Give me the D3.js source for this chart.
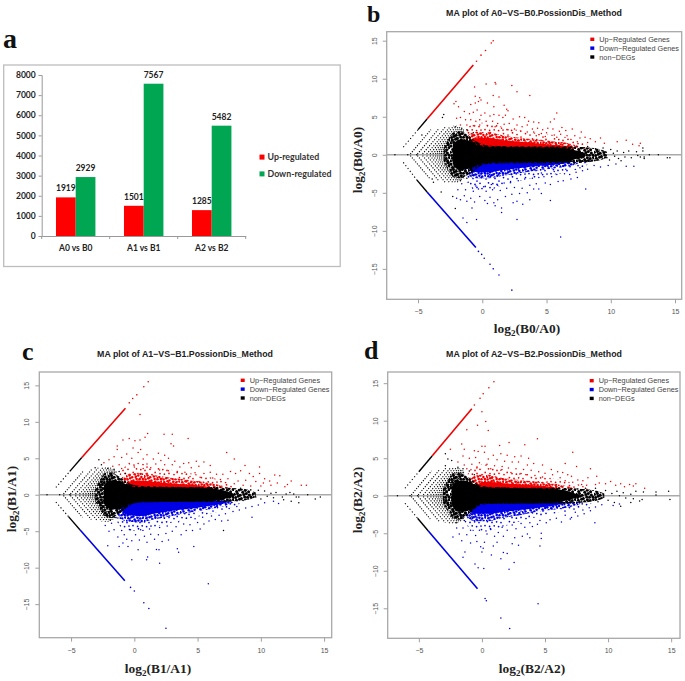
<!DOCTYPE html>
<html>
<head>
<meta charset="utf-8">
<script src="https://cdn.jsdelivr.net/npm/d3@7"></script>
<style>
html, body { margin: 0; padding: 0; background: #fff; }
svg { display: block; }
</style>
</head>
<body>
<script>
// ---- panel a : bar chart ----
var barGroups = ["A0 vs B0", "A1 vs B1", "A2 vs B2"];
var barSeries = ["Up-regulated", "Down-regulated"];
var barUp = [1919, 1501, 1285];
var barDown = [2929, 7567, 5482];
var barTicks = [0, 1000, 2000, 3000, 4000, 5000, 6000, 7000, 8000];

// ---- MA plots : shared ticks ----
var maTicksX = [-5, 0, 5, 10, 15];
var maTicksY = [-15, -10, -5, 0, 5, 10, 15];
var maLegend = ["Up\u2212Regulated Genes", "Down\u2212Regulated Genes", "non\u2212DEGs"];

// stripes of the low count genes, left side (start, end)
var fanUp = [[[-5.6,0.1],[-4.0,3.3]],[[-5.05,0.1],[-3.35,3.5]],[[-4.65,0.1],[-2.85,3.7]],[[-4.33,0.1],[-2.5,3.7]],
  [[-4.07,0.1],[-2.22,3.8]],[[-3.85,0.1],[-2.0,3.8]],[[-3.65,0.1],[-1.85,3.7]],[[-3.49,0.1],[-1.74,3.6]],
  [[-3.33,0.1],[-1.63,3.5]],[[-3.2,0.1],[-1.55,3.4]],[[-3.07,0.1],[-1.45,3.3]],[[-2.95,0.1],[-1.4,3.2]]];
var fanDown = [[[-5.6,-0.1],[-4.1,-3.1]],[[-5.05,-0.1],[-3.4,-3.4]],[[-4.65,-0.1],[-2.9,-3.6]],[[-4.33,-0.1],[-2.55,-3.66]],
  [[-4.07,-0.1],[-2.27,-3.7]],[[-3.85,-0.1],[-2.05,-3.7]],[[-3.65,-0.1],[-1.9,-3.6]],[[-3.49,-0.1],[-1.8,-3.5]],
  [[-3.33,-0.1],[-1.68,-3.4]],[[-3.2,-0.1],[-1.6,-3.3]],[[-3.07,-0.1],[-1.5,-3.2]],[[-2.95,-0.1],[-1.45,-3.1]]];

// ---- panel b ----
var bDiagUp = [[-6.15,1],[-5.0,3.3],[-4.3,4.7],[-0.7,11.8]];
var bDiagDown = [[-6.15,-1],[-5.1,-3.3],[-4.3,-4.9],[-0.5,-12.2]];
var bCoreSolid = [[-2.3,1.2,-1.2],[-1.8,2,-2],[-1.2,1.9,-1.9],[-0.6,1.45,-1.5],[0,1.1,-1.1],[1,1.05,-1.05],[4,1,-1],[6,0.95,-0.95],[6.8,0.75,-0.75],[7.5,0.45,-0.45],[8,0.2,-0.2]];
var bCore = [[-3,0.9,-0.9],[-2.6,2.2,-2.2],[-2.2,3,-3],[-1.7,3.1,-3.1],[-1.2,2.7,-2.7],[-0.7,2,-2.2],[-0.2,1.5,-1.5],[0.5,1.2,-1.2],[4,1.1,-1.1],[6,1.1,-1.1],[7,1.1,-1.1],[8,1,-1],[9,0.8,-0.8],[9.7,0.4,-0.4]];
var bRedSolid = [[-1.3,1],[-0.9,1.9],[-0.3,2.2],[0.5,2.2],[1.5,1.95],[3,1.7],[4.5,1.45],[6,1.25],[7,1.05],[7.2,0.9]];
var bRedMid = [[-1.6,1.2],[-1.1,2.6],[-0.5,3],[0.5,3],[1.5,2.6],[3,2.2],[4.5,1.95],[6,1.7],[7,1.4],[7.6,1.1]];
var bRedHaze = [[-1.8,1.4],[-1.2,3.4],[-0.5,4.2],[0.5,4.2],[1.5,3.7],[3,3.2],[4.5,2.8],[6,2.5],[7,2.1],[8,1.5],[8.6,0.9]];
var bBlueSolid = [[-1.3,-1],[-0.9,-2],[-0.3,-2.3],[0.5,-2.3],[1.5,-2.05],[3,-1.75],[4.5,-1.45],[6,-1.25],[6.8,-1.05],[7,-0.9]];
var bBlueMid = [[-1.6,-1.3],[-1.1,-2.7],[-0.5,-3.1],[0.5,-3.1],[1.5,-2.8],[3,-2.4],[4.5,-2],[6,-1.7],[7,-1.4],[7.6,-1.05]];
var bBlueHaze = [[-1.8,-1.5],[-1.2,-3.6],[-0.5,-4.6],[0.5,-4.6],[1.5,-4.1],[3,-3.4],[4.5,-2.9],[6,-2.5],[7,-2.1],[8,-1.5],[8.5,-0.9]];
var bUp = [[0.3,9.3],[1,9.5],[1.05,9.3],[2.3,9.1],[2.7,8.3],[3.7,7.8],[-0.6,8.9],[-0.55,7.7],[0.85,7.8],[1.3,7.6],[-0.2,7.5],[-0.1,7.2],[-0.3,7],[-0.55,6.8],[-0.9,6.6],[-2.2,6.7],[-2.05,7],[-1.85,6.3],[0.4,6.8],[0.9,6.3],[1.7,6.5],[1.9,6],[2,5.8],[5.8,5.5],[1.8,5.2],
  [-1.4,5.7],[-1,5.4],[-0.7,5.6],[-0.4,5.9],[-0.1,5.2],[0.2,5.5],[0.6,5.1],[0.9,5.3],[1.3,5.2],[1.6,4.9],[2.4,4.7],[2.9,5],[3.3,4.9],[3.6,4.4],[4,4.3],[4.4,4.2],[5.6,4.7],[5.3,4.3],[6.2,3.6],[7,3.4],[6.5,3.2],[7.7,3],[5.1,3.5],[5.5,3.4],[6,3.1],
  [-2,4.8],[-1.7,4.9],[-1.3,4.6],[-0.9,4.6],[-0.5,4.4],[-0.2,4.6],[0.3,4.4],[0.8,4.4],[1.2,4.1],[1.7,4],[2.1,4.1],[2.7,3.9],[3.1,3.7],[3.5,3.9],[3.9,3.4],[4.3,3.5],[4.7,3.3],[-1.7,3.9],[-1.2,3.9],[-0.7,3.8],[-0.2,3.9],[0.4,3.8],[1,3.7],[1.5,3.5],[2,3.3],[2.5,3.4],[3,3.1],[3.5,3],[4,3],[4.6,2.8],[5,2.9],[5.6,2.6],[6.1,2.7],[6.6,2.5],[7.2,2.5],[7.6,2.2],[8,2.3],[8.4,2.1],[8.8,1.7],[9.2,2.2],[9.5,1.5],[10.5,1.7],[11.2,1.9],[11.7,1.4],[12.3,1.5],[12.2,1.2],[8.2,1.6],[7.4,1.7],[6.9,2],[5.8,2.3],[4.9,2.4],[4.2,2.5]];
var bUpEnd = [[-0.45,12.3],[-0.1,13.1],[0.25,13.7],[0.7,14.7],[0.85,15]];
var bDown = [[6.1,-10.8],[2.7,-8.5],[-0.45,-8.5],[-1.2,-8.9],[-1.5,-8.3],[8.05,-4.5],[5.3,-6],[-0.8,-7],[1.5,-7.6],[3.15,-6.5],[1.5,-7],[1,-6.7],[0.9,-6.3],[0.4,-6.4],[0.2,-6],[-0.6,-6.2],[-1.2,-6.1],[-1.7,-5.9],[-2,-5.7],[-1.4,-5.4],[-0.9,-5.7],[-0.2,-5.5],[0.6,-5.6],[1.2,-5.9],[1.8,-5.5],[2.4,-6.3],[2.7,-6.1],[3.7,-5.9],
  [2.3,-5.2],[2.9,-5.1],[3.5,-5],[4,-4.5],[4.4,-4.5],[4.6,-5.1],[-1.9,-4.6],[-1.3,-4.6],[-0.7,-4.8],[-0.3,-4.5],[0.3,-4.8],[0.8,-4.6],[1.4,-4.7],[1.9,-4.4],[2.5,-4.3],[3.1,-4.4],[3.7,-4],[4.2,-3.8],[4.9,-3.7],[5.3,-3.9],[5.9,-3.5],[6.3,-3.4],[6.9,-3.2],[7.4,-3],
  [-1.6,-3.8],[-1.1,-3.6],[-0.5,-4.1],[0.1,-4.2],[0.7,-3.9],[1.2,-4],[1.7,-3.7],[2.2,-3.5],[2.8,-3.4],[3.3,-3.2],[3.9,-3.1],[4.4,-3],[4.8,-2.9],[5.4,-2.9],[5.8,-2.6],[6.4,-2.5],[6.8,-2.6],[7.3,-2.3],[7.8,-2.1],[8.2,-1.9],[8.7,-1.4],[9.2,-1.6],[9.8,-1.4],[10.4,-1.2],[11.2,-1.5],[11.8,-1.5],[7.6,-1.7],[6.5,-1.9],[5.6,-2.2],[4.6,-2.4]];
var bDownEnd = [[-0.3,-12.7],[-0.05,-13.1],[0.15,-13.6],[0.6,-14.4],[0.85,-15],[1.3,-15.8],[2.3,-17.8]];
var bOther = [[-3,5.3],[-3.1,4.9],[-2.1,3.7],[-2.1,-7.05],[-2.3,-5.5],[-3.2,-4.9],[-3.9,-3.2],[-3.8,-3.6],[-6.8,0],[-5.8,0],[-5.1,0],[-4.7,2.6],[-1.6,3.5],[-1.2,3.3],[-0.7,2.9],[-1.7,-3.4],[-1.2,-3.1],[-0.8,-2.7],[7.8,0.9],[8.2,1.1],[8.6,-0.7],[8.8,0.8],[9,-0.6],[9.1,0.5],[9.3,-0.3],[9.4,0.9],[9.5,0.3],[9.7,-0.4],[9.9,-0.7],[10,0.7],[10.2,0.2],[10.3,-0.2],[10.5,0.5],[10.6,-0.5],[10.8,-0.8],[11,0.3],[11.1,-0.3],[11.4,0.5],[11.6,-0.4],[12,0.4],[12.1,-0.1],[12.3,-0.3],[12.5,0.5],[12.6,-0.3],[12.6,-0.5],[12.5,0.9],[13,0],[13.7,0],[14.4,-0.4],[14.6,-0.4]];

// ---- panel c ----
var cDiagUp = [[-6.2,1],[-5.1,3.2],[-4.15,5.1],[-0.7,11.85]];
var cDiagDown = [[-6.2,-1],[-5.2,-3],[-4.3,-4.8],[-0.75,-11.8]];
var cCoreSolid = [[-2.4,1.2,-1.2],[-1.9,2,-2],[-1.3,1.9,-2],[-0.6,1.4,-1.45],[0,1.1,-1],[1,1.05,-0.95],[4,1,-0.95],[6,0.9,-0.9],[6.8,0.7,-0.7],[7.4,0.4,-0.4],[7.9,0.15,-0.15]];
var cCore = [[-3.1,0.9,-0.9],[-2.7,2.1,-2.1],[-2.3,3,-3],[-1.8,3.1,-3.2],[-1.3,2.6,-2.7],[-0.7,1.9,-2],[-0.2,1.4,-1.3],[0.5,1.2,-1.05],[4,1.05,-1],[6,1.05,-1],[7,1,-1],[8,0.9,-0.9],[9,0.7,-0.7],[9.6,0.3,-0.3]];
var cRedSolid = [[-1,1],[-0.5,1.6],[0.3,1.95],[1.2,1.85],[2.5,1.6],[4,1.4],[5.5,1.2],[6.2,1]];
var cRedMid = [[-1.2,1.3],[-0.8,2.4],[-0.3,2.9],[0.5,3],[1.5,2.7],[3,2.3],[4.5,2],[6,1.6],[6.8,1.3],[7.4,1]];
var cRedHaze = [[-1.5,1.5],[-1,3.3],[-0.4,4.2],[0.5,4.3],[1.5,3.9],[3,3.4],[4.5,2.9],[6,2.4],[7,1.9],[8,1.3],[8.6,0.8]];
var cBlueSolid = [[-1.4,-1],[-1,-2.2],[-0.5,-2.8],[0.5,-2.9],[1.5,-2.6],[3,-2.2],[4.5,-1.9],[6,-1.5],[7,-1.2],[7.4,-0.9]];
var cBlueMid = [[-1.7,-1.3],[-1.2,-3],[-0.5,-3.7],[0.5,-3.8],[1.5,-3.4],[3,-2.9],[4.5,-2.4],[6,-2],[7,-1.6],[7.8,-1.1]];
var cBlueHaze = [[-1.9,-1.5],[-1.4,-3.6],[-0.6,-4.9],[0.5,-5],[1.5,-4.5],[3,-3.8],[4.5,-3.2],[6,-2.6],[7,-2.2],[8,-1.5],[8.8,-0.8]];
var cUp = [[0.45,11],[1.05,8.4],[2.35,8.3],[3,8.3],[4.25,7.7],[-0.9,7.5],[-0.4,7.7],[0.05,7.4],[0.85,7.9],[0.45,7.5],[2.9,7],[3.1,6.7],[-1.35,6.7],[-1.35,6.2],[-0.1,6.4],[7.3,5.8],[7.9,4.9],[11.1,2.7],[11.5,2.6],[12.4,1.9],[13.2,1.3],[13.6,1.3],[9.9,3.8],[8.75,4],[8,2.9],
  [0.3,5.8],[1,5.5],[1.9,5.7],[2.4,5.4],[0.5,6.2],[-0.6,5.6],[-1,5.1],[-1.6,5.2],[-2,4.8],[-2.4,4.4],[-0.2,5],[0.7,4.9],[1.5,4.9],[2.1,4.7],[2.7,5],[3.2,4.6],[3.9,4.3],[4.3,4.4],[4.9,4.6],[5.5,4.5],[6,4],[5.1,3.9],[4.5,3.7],[3.6,3.8],[3,4.1],[2.4,4.1],[1.7,4.2],[1,4.2],[0.3,4.3],[-0.4,4.3],[-1.2,4.1],[-1.7,3.9],
  [-1,3.6],[0,3.8],[0.7,3.6],[1.3,3.7],[2,3.4],[2.7,3.3],[3.4,3.2],[4,3.1],[4.8,3],[5.5,2.9],[6,3.1],[6.5,2.8],[7,2.8],[7.6,3.2],[8.4,3.3],[9.1,2.9],[9.4,2.5],[9.9,2.9],[10.3,2.2],[10.7,1.9],[10.2,1.6],[9.6,1.8],[8.8,2],[8.2,1.9],[7.4,2.2],[6.8,2.1],[6.2,2.3],[5.2,2.4],[4.4,2.5],[7.9,1.5],[8.6,1.3],[9.2,1.2],[10,1.2],[10.8,1.3],[11.3,1.6],[11.9,1.1],[12.1,1.4]];
var cUpEnd = [[-0.4,12.6],[-0.13,13.2],[0.2,13.7],[0.75,14.8],[1.1,15.5]];
var cDown = [[-0.2,-8.9],[5.85,-12.2],[2,-9.4],[1.05,-8.55],[0.97,-8.9],[3.5,-7.9],[3.4,-7.4],[4.7,-7.1],[1.75,-7.5],[1.95,-7.55],[0.3,-7.55],[-2.1,-7],[-1.2,-7.1],[-0.5,-7.1],[9.3,-3.1],[-0.9,-6.6],[-0.6,-6.1],[-0.2,-6.3],[0.4,-6.2],[1,-6.5],[1.6,-6.1],[2.2,-6.4],[2.7,-6.2],[-1.3,-5.8],[-0.8,-5.5],[0.1,-5.5],[0.8,-5.7],[1.3,-5.4],[1.9,-5.5],[2.5,-5.3],[3,-5],[3.7,-5.5],[4.1,-4.9],[4.6,-4.9],[5.2,-4.7],
  [-2,-5],[-1.6,-4.8],[-1,-4.9],[-0.3,-4.8],[0.5,-4.8],[1.2,-4.7],[2,-4.5],[2.6,-4.3],[3.3,-4.4],[3.9,-4],[4.4,-4.1],[5,-3.8],[5.5,-4],[5.9,-3.6],[6.4,-3.4],[6.9,-3.6],[7.4,-3.5],[-2.3,-4.2],[-1.8,-3.9],[3.5,-3.7],[4.8,-3.3],[5.4,-3.1],[6.1,-2.9],[6.7,-2.8],[7.2,-2.6],[7.8,-2.3],[8.3,-2.1],[8.8,-1.8],[9.3,-1.6],[9.8,-1.4],[10.3,-1.1],[11,-0.9],[11.4,-1.2],[7.5,-1.9],[8.1,-1.6]];
var cDownEnd = [[-0.3,-12.7],[0,-13.2],[0.75,-14.8],[1.15,-15.6],[2.5,-18.3]];
var cOther = [[-2.8,4.8],[-2.6,4.1],[-3.1,3.7],[-2.1,3.6],[-1.6,3.5],[-1.2,3.2],[-0.7,2.9],[-1.9,-3.5],[-1.3,-3.2],[-0.8,-2.7],[7.05,-4.9],[-6.9,0],[-5.9,0],[-5.1,0],[7.8,0.8],[8.1,-0.7],[8.4,0.9],[8.6,-0.8],[8.8,0.5],[9,-0.5],[9.2,0.7],[9.4,0.2],[9.6,-0.3],[9.8,0.6],[10,-0.6],[10.3,0.5],[10.5,-0.2],[10.8,0.2],[11,-0.4],[11.2,0.3],[11.7,-0.3],[12,0.1],[12.3,0.3],[12.6,0.1],[12.8,-0.3],[13,-0.3],[13.7,0],[14.3,-0.6],[14.7,-0.3],[12.4,-0.9],[11.8,-0.7],[13,-1.1]];

// ---- panel d ----
var dDiagUp = [[-6.1,1],[-5,3.2],[-3.95,5.3],[-0.8,11.6]];
var dDiagDown = [[-6.1,-1],[-5.1,-3],[-4.25,-4.7],[-0.35,-12.4]];
var dCoreSolid = [[-2.4,1.2,-1.2],[-1.9,2,-2.1],[-1.3,2,-2.1],[-0.6,1.45,-1.5],[0,1.15,-1.05],[1,1.05,-1],[4,1,-1],[5.8,0.9,-0.9],[6.5,0.7,-0.7],[7.2,0.4,-0.4],[7.7,0.15,-0.15]];
var dCore = [[-3.1,0.9,-0.9],[-2.7,2.1,-2.1],[-2.3,3,-3],[-1.8,3.1,-3.2],[-1.3,2.7,-2.8],[-0.7,2,-2],[-0.2,1.4,-1.3],[0.5,1.2,-1.1],[4,1.05,-1.05],[6,1.05,-1.05],[7,1,-1],[8,0.9,-0.9],[9,0.7,-0.7],[9.7,0.3,-0.3]];
var dRedSolid = [[-0.9,1],[-0.4,1.5],[0.3,1.85],[1.2,1.75],[2.5,1.55],[4,1.4],[5.5,1.2],[6,1]];
var dRedMid = [[-1.2,1.3],[-0.8,2.4],[-0.3,2.8],[0.5,2.8],[1.5,2.4],[3,2.1],[4.5,1.85],[6,1.5],[6.8,1.25],[7.4,1]];
var dRedHaze = [[-1.5,1.5],[-1,3.3],[-0.4,4.2],[0.5,4.2],[1.5,3.6],[3,3.1],[4.5,2.6],[6,2.2],[7,1.8],[8,1.3],[8.5,0.8]];
var dBlueSolid = [[-1.3,-1],[-1,-2],[-0.5,-2.4],[0.5,-2.4],[1.5,-2.2],[3,-1.9],[4.5,-1.6],[5.8,-1.3],[6.5,-1]];
var dBlueMid = [[-1.7,-1.3],[-1.2,-2.8],[-0.5,-3.4],[0.5,-3.4],[1.5,-3],[3,-2.6],[4.5,-2.1],[6,-1.8],[7,-1.5],[7.8,-1.1]];
var dBlueHaze = [[-1.9,-1.5],[-1.4,-3.4],[-0.6,-4.7],[0.5,-4.8],[1.5,-4.2],[3,-3.4],[4.5,-2.8],[6,-2.3],[7,-2.1],[8,-1.6],[8.7,-1]];
var dUp = [[0,11.2],[0.3,9.9],[-0.35,9.4],[0.5,8.7],[-1.2,8.8],[4.4,7.6],[2.15,7.1],[1.4,6.7],[3.4,6.8],[-1.6,6.9],[7.2,5.8],[-2.5,6.2],[0,6.6],[0.25,6.6],[6.6,4.3],[7.5,3.9],[8.6,3.6],[9.1,2.6],[12.2,1.6],[12.9,1],[11.7,1.5],
  [-1.4,6.2],[-0.6,6],[-0.3,5.9],[0.2,5.8],[0.9,5.4],[1.5,5.6],[2,5.4],[2.6,5.2],[3.1,5.3],[3.7,5],[-1.5,5.3],[-1,5],[-0.5,5.1],[0.5,4.9],[1.2,4.8],[1.8,4.6],[2.4,4.5],[2.9,4.5],[3.6,4.1],[4.1,4.3],[4.8,4.1],[5.5,3.5],[6,3.2],[6.4,3.1],[6.8,2.8],[7.1,2.6],
  [-1.9,4.5],[-1.4,4.1],[-0.8,4.2],[-0.2,4.4],[0.4,4.2],[1,4],[1.6,3.9],[2.1,3.7],[2.7,3.6],[3.3,3.5],[3.9,3.4],[4.5,3.2],[5,3],[5.6,2.8],[6.2,2.4],[7.6,2.1],[8,2],[8.4,2.4],[-1.2,3.6],[-0.4,3.7],[0.7,3.6],[1.5,3.4],[2.3,3.1],[3,2.9],[3.6,2.8],[4.2,2.7],[4.8,2.5],[5.4,2.3],[6.6,2],[7.2,1.8],[9,1.5],[9.3,1.7],[9.8,1.6],[10.2,1.9],[10.6,1.4],[11,1.6],[11.3,1.2],[12,1.3],[8.3,1.4],[7.9,1.5]];
var dUpEnd = [[-0.6,12.1],[-0.15,13],[0.1,13.6],[0.55,14.4],[0.95,15.2]];
var dDown = [[4.45,-14.4],[2.15,-9.8],[2.55,-8.9],[0.15,-9.7],[-0.3,-9.6],[-0.55,-9.1],[-1.5,-8.2],[-1.35,-7.5],[0.75,-7.9],[1.5,-8.4],[1.7,-7.55],[2,-7.7],[8.95,-3.6],[4.6,-6.7],[4.7,-5],[4.7,-5.7],[-0.1,-6.8],[0,-7.5],[0.1,-7],[-0.9,-6.3],[-0.4,-6.1],[0.2,-6.2],[0.9,-6.7],[1.2,-6.2],[-1.6,-6],[2.4,-6.4],[2.9,-6.6],[2.6,-5.6],[3.2,-5.4],[3.6,-5.1],[3.8,-5.6],[1.7,-5.4],[1,-5.4],
  [-2.3,-5.5],[-1.8,-5.1],[-1.2,-5.2],[-0.5,-5.3],[0.4,-5.1],[1.3,-4.9],[2,-4.6],[2.7,-4.4],[3.4,-4.2],[4,-4.1],[4.4,-3.8],[5.1,-3.6],[-2,-4.3],[-1.5,-4.3],[-0.9,-4.6],[-0.2,-4.6],[0.7,-4.5],[1.6,-4.2],[2.4,-3.9],[3.1,-3.7],[3.8,-3.6],[4.6,-3.3],[5.4,-3.2],[5.9,-3],[6.3,-3.5],[7,-3.1],[7.1,-2.9],[7.6,-2.7],[8.1,-2.4],[8.6,-2],[6.6,-2.6],[7.4,-2.2],[8,-1.9],[8.5,-1.6],[9,-1.5],[9.5,-1.2],[10.4,-1.3],[10.9,-1.1]];
var dDownEnd = [[0.25,-13.7],[0.35,-14],[1.5,-16.3],[2.2,-17.7]];
var dOther = [[-2.9,5.6],[-2.7,4.9],[-2.4,4.7],[-2.9,4],[-1.9,3.8],[-1.5,3.6],[-1,3.3],[-0.6,2.8],[-2,-3.6],[-1.4,-3.3],[-0.8,-2.8],[-6.7,0],[-5.7,0],[-5.1,0],[7.6,0.9],[7.9,-0.8],[8.2,1],[8.4,-0.7],[8.6,0.6],[8.9,-0.5],[9,1],[9.2,-0.8],[9.4,0.4],[9.6,-0.2],[9.8,0.7],[10,-0.6],[10.3,0.3],[10.5,-0.9],[10.7,0.6],[10.9,0],[11.2,0.4],[11.4,-0.3],[11.8,0.2],[12,-0.4],[12.2,0.6],[12.5,-0.7],[12.7,-0.5],[12.8,0.5],[13.8,0.5],[13.8,0.1],[14.8,0.6],[14.9,-0.5],[11,-1.4],[11.8,-0.9]];

var width = 685,
    height = 681;

var svg = d3.select("body").append("svg")
    .attr("width", width)
    .attr("height", height);

var defs = svg.append("defs");

// slight softening, the source is a resampled bitmap
defs.append("filter").attr("id", "soft")
    .append("feGaussianBlur").attr("stdDeviation", 0.3);

// stipple textures for the zones too dense to list gene by gene
var tileDense = [[1,2],[4.4,0.6],[7.2,3.3],[10.5,1.2],[13.1,2.6],[16.3,0.8],[2.6,5.4],[5.2,4.1],[8.7,6.2],[11.2,4.3],[14.6,5.7],[17.2,3.6],[0.4,8.3],[3.5,7.4],[6.2,9.2],[9.9,8.6],[12.3,7.6],[15.4,8.9],
    [1.6,11.4],[4.2,10.3],[7.4,12.6],[10.6,10.9],[13.5,11.2],[16.8,11],[2.3,14.2],[5.5,13.3],[8.6,15.4],[11.4,13.8],[14.2,14.6],[17.4,13.6],[0.5,17],[3.7,16.4],[6.3,17.3],[9.6,17.1],[12.4,16.6],[15.6,16.9]];
var tileSparse = [[2,3],[6.5,0.8],[11,2.5],[15,5],[19.5,1.6],[4.5,6.8],[8.8,7.6],[13,8.4],[18,7.3],[1.2,10.4],[6,11.6],[10.4,12.2],[15,11.4],[20,12.6],[3.4,15.6],[8,16.4],[12.6,15.8],[17,16.6],[1,19.6],[5.6,20.4],[10.2,19.8],[14.6,20.6],[19,20]];
function stipple(id, tile, size, color, r) {
    var pat = defs.append("pattern").attr("id", id)
        .attr("patternUnits", "userSpaceOnUse")
        .attr("width", size).attr("height", size);
    pat.selectAll("circle").data(tile).join("circle")
        .attr("cx", function (d) { return d[0]; })
        .attr("cy", function (d) { return d[1]; })
        .attr("r", r).attr("fill", color);
}
var red = "#f00000", blue = "#0000e6", black = "#000";
stipple("redDense", tileDense, 18, red, 1.25);
stipple("redSparse", tileSparse, 22, red, 0.85);
stipple("blueDense", tileDense, 18, blue, 1.25);
stipple("blueSparse", tileSparse, 22, blue, 0.85);
stipple("blackDense", tileDense, 18, black, 1.5);

var serif = "'Liberation Serif', serif",
    sans = "'Liberation Sans', sans-serif";

// panel letters
[["a", 3, 48, 28], ["b", 367, 21.5, 24], ["c", 22, 360, 26], ["d", 364, 359, 26]].forEach(function (l) {
    svg.append("text")
        .attr("x", l[1]).attr("y", l[2])
        .attr("font-family", serif).attr("font-weight", "bold")
        .attr("font-size", l[3]).attr("fill", "#111")
        .text(l[0]);
});

// ---- bar chart ----
function drawBars() {
    var g = svg.append("g");
    g.append("rect")
        .attr("x", 3.7).attr("y", 65).attr("width", 336.5).attr("height", 201.5)
        .attr("fill", "#fff").attr("stroke", "#bdbdbd").attr("stroke-width", 1.3);

    var x = d3.scaleBand().domain(barGroups).range([41.7, 245.7]).paddingInner(0.42).paddingOuter(0.21);
    var inner = d3.scaleBand().domain(barSeries).range([0, x.bandwidth()]);
    var y = d3.scaleLinear().domain([0, 8000]).range([236, 75]);
    var colors = { "Up-regulated": "#ff0000", "Down-regulated": "#00a651" };

    var font = "Lato, 'Open Sans', sans-serif";

    var yAxis = g.append("g").attr("transform", "translate(41.7,0)")
        .call(d3.axisLeft(y).tickValues(barTicks).tickFormat(d3.format("d")).tickSize(3).tickPadding(3));
    var xAxis = g.append("g").attr("transform", "translate(0,236)")
        .call(d3.axisBottom(x).tickSize(0).tickPadding(9));
    [yAxis, xAxis].forEach(function (a) {
        a.selectAll("path,line").attr("stroke", "#999");
        a.selectAll("text").attr("font-family", font).attr("font-weight", "bold")
            .attr("font-size", 8.5).attr("fill", "#222");
    });
    // ticks between the categories
    d3.range(barGroups.length + 1).forEach(function (i) {
        g.append("line")
            .attr("x1", 41.7 + i * x.step()).attr("x2", 41.7 + i * x.step())
            .attr("y1", 236).attr("y2", 239).attr("stroke", "#999");
    });

    barSeries.forEach(function (s, si) {
        var values = si == 0 ? barUp : barDown;
        var gs = g.append("g");
        gs.selectAll("rect").data(values).join("rect")
            .attr("x", function (d, i) { return x(barGroups[i]) + inner(s); })
            .attr("y", function (d) { return y(d); })
            .attr("width", inner.bandwidth())
            .attr("height", function (d) { return y(0) - y(d); })
            .attr("fill", colors[s]);
        gs.selectAll("text").data(values).join("text")
            .attr("x", function (d, i) { return x(barGroups[i]) + inner(s) + inner.bandwidth() / 2; })
            .attr("y", function (d) { return y(d) - 6; })
            .attr("text-anchor", "middle")
            .attr("font-family", font).attr("font-weight", "bold")
            .attr("font-size", 8.5).attr("fill", "#222")
            .text(function (d) { return d; });
    });

    barSeries.forEach(function (s, i) {
        g.append("rect")
            .attr("x", 259.5).attr("y", 154.6 + i * 16.8).attr("width", 5).attr("height", 5)
            .attr("fill", colors[s]);
        g.append("text")
            .attr("x", 267.5).attr("y", 160.2 + i * 16.8)
            .attr("font-family", font).attr("font-weight", "bold")
            .attr("font-size", 8.8).attr("fill", "#333")
            .text(s);
    });
}

// ---- MA plot ----
function drawMA(p) {
    var g = svg.append("g");
    var x = d3.scaleLinear().domain(p.xDomain).range([p.left, p.right]);
    var y = d3.scaleLinear().domain(p.yDomain).range([p.bottom, p.top]);

    // gray zero line, under the genes
    g.append("line")
        .attr("x1", p.left).attr("x2", p.right)
        .attr("y1", y(0)).attr("y2", y(0))
        .attr("stroke", "#aaa").attr("stroke-width", 1.6);

    var marks = g.append("g").attr("filter", "url(#soft)");

    function band(edge, fill) {
        var area = d3.area()
            .x(function (d) { return x(d[0]); })
            .y0(function (d) { return y(d[1] > 0 ? 0.8 : -0.8); })
            .y1(function (d) { return y(d[1]); })
            .curve(d3.curveMonotoneX);
        marks.append("path").attr("d", area(edge)).attr("fill", fill);
    }
    function dots(list, fill, r) {
        marks.append("g").selectAll("circle").data(list).join("circle")
            .attr("cx", function (d) { return x(d[0]); })
            .attr("cy", function (d) { return y(d[1]); })
            .attr("r", r)
            .attr("fill", fill);
    }
    var line = d3.line()
        .x(function (d) { return x(d[0]); })
        .y(function (d) { return y(d[1]); });

    band(p.redHaze, "url(#redSparse)");
    band(p.redMid, "url(#redDense)");
    band(p.redSolid, red);
    band(p.blueHaze, "url(#blueSparse)");
    band(p.blueMid, "url(#blueDense)");
    band(p.blueSolid, blue);
    dots(p.up, red, 0.75);
    dots(p.down, blue, 0.75);

    // low count stripes
    fanUp.concat(fanDown).forEach(function (s) {
        marks.append("path").attr("d", line(s))
            .attr("fill", "none").attr("stroke", black)
            .attr("stroke-width", 1.1).attr("stroke-dasharray", "1.1 1.5");
    });

    // black genes around zero : speckled outside, solid in the middle
    var core = d3.area()
        .x(function (d) { return x(d[0]); })
        .y0(function (d) { return y(d[2]); })
        .y1(function (d) { return y(d[1]); })
        .curve(d3.curveMonotoneX);
    marks.append("path").attr("d", core(p.core)).attr("fill", "url(#blackDense)");
    marks.append("path").attr("d", core(p.coreSolid)).attr("fill", black);
    dots(p.other, black, 0.75);

    // both diagonals : dotted start, black, then coloured
    [[p.diagUp, red], [p.diagDown, blue]].forEach(function (pair) {
        var d = pair[0];
        marks.append("path").attr("d", line(d.slice(0, 2)))
            .attr("fill", "none").attr("stroke", black).attr("stroke-width", 1.1).attr("stroke-dasharray", "1.2 2.4");
        marks.append("path").attr("d", line(d.slice(1, 3)))
            .attr("fill", "none").attr("stroke", black).attr("stroke-width", 1.4);
        marks.append("path").attr("d", line(d.slice(2, 4)))
            .attr("fill", "none").attr("stroke", pair[1]).attr("stroke-width", 1.6);
    });
    dots(p.upEnd, red, 0.8);
    dots(p.downEnd, blue, 0.8);

    // frame and axes
    g.append("rect")
        .attr("x", p.left).attr("y", p.top)
        .attr("width", p.right - p.left).attr("height", p.bottom - p.top)
        .attr("fill", "none").attr("stroke", "#a8a8a8").attr("stroke-width", 1.3);

    function minus(d) { return String(d).replace("-", "\u2212"); }
    var xAxis = g.append("g").attr("transform", "translate(0," + p.bottom + ")")
        .call(d3.axisBottom(x).tickValues(maTicksX).tickSize(4).tickPadding(6).tickFormat(minus));
    var yAxis = g.append("g").attr("transform", "translate(" + p.left + ",0)")
        .call(d3.axisLeft(y).tickValues(maTicksY).tickSize(4).tickPadding(5).tickFormat(minus));
    xAxis.select(".domain").remove();
    yAxis.select(".domain").remove();
    [xAxis, yAxis].forEach(function (a) {
        a.selectAll("line").attr("stroke", "#a0a0a0");
        a.selectAll("text").attr("font-family", sans).attr("font-size", 7).attr("fill", "#555");
    });
    // y tick labels are turned in R plots
    yAxis.selectAll("text")
        .attr("text-anchor", "middle").attr("dy", 0)
        .attr("x", 0).attr("y", 0)
        .attr("transform", "translate(-10,0) rotate(-90)");

    // title
    g.append("text")
        .attr("x", p.titleX).attr("y", p.titleY)
        .attr("text-anchor", "middle")
        .attr("font-family", sans).attr("font-weight", "bold")
        .attr("font-size", 8.8).attr("fill", "#222")
        .text(p.title);

    // legend
    var colors = [red, blue, black];
    maLegend.forEach(function (t, i) {
        g.append("rect")
            .attr("x", p.legX - 2).attr("y", p.legY + i * 8.85 - 1.7)
            .attr("width", 4).attr("height", 3.4)
            .attr("fill", colors[i]);
        g.append("text")
            .attr("x", p.legX + 7).attr("y", p.legY + i * 8.85 + 2.6)
            .attr("font-family", sans).attr("font-size", 7.3).attr("fill", "#444")
            .text(t);
    });

    // axis labels : log2(...)
    function logLabel(sel, name) {
        sel.attr("text-anchor", "middle")
            .attr("font-family", serif).attr("font-weight", "bold")
            .attr("font-size", 13.4).attr("fill", "#222");
        sel.append("tspan").text("log");
        sel.append("tspan").attr("font-size", 9).attr("dy", 3).text("2");
        sel.append("tspan").attr("dy", -3).text("(" + name + ")");
    }
    logLabel(g.append("text").attr("x", p.xLabelX).attr("y", p.xLabelY), p.label);
    logLabel(g.append("text")
        .attr("transform", "translate(" + p.yLabelX + "," + p.yLabelY + ") rotate(-90)"), p.label);
}

drawBars();

drawMA({
    left: 386.7, right: 681.7, top: 31.7, bottom: 299.3,
    xDomain: [-7.44, 15.52], yDomain: [-19, 16.18],
    title: "MA plot of A0\u2212VS\u2212B0.PossionDis_Method", titleX: 534, titleY: 16,
    legX: 592.3, legY: 39.3,
    label: "B0/A0", xLabelX: 527, xLabelY: 333, yLabelX: 362, yLabelY: 160,
    diagUp: bDiagUp, diagDown: bDiagDown, core: bCore, coreSolid: bCoreSolid,
    redSolid: bRedSolid, redMid: bRedMid, redHaze: bRedHaze,
    blueSolid: bBlueSolid, blueMid: bBlueMid, blueHaze: bBlueHaze,
    up: bUp, upEnd: bUpEnd, down: bDown, downEnd: bDownEnd, other: bOther
});

drawMA({
    left: 39.3, right: 331.7, top: 372, bottom: 637.7,
    xDomain: [-7.51, 15.6], yDomain: [-19.6, 16.83],
    title: "MA plot of A1\u2212VS\u2212B1.PossionDis_Method", titleX: 185, titleY: 357,
    legX: 242.7, legY: 380.3,
    label: "B1/A1", xLabelX: 158, xLabelY: 673, yLabelX: 16, yLabelY: 499,
    diagUp: cDiagUp, diagDown: cDiagDown, core: cCore, coreSolid: cCoreSolid,
    redSolid: cRedSolid, redMid: cRedMid, redHaze: cRedHaze,
    blueSolid: cBlueSolid, blueMid: cBlueMid, blueHaze: cBlueHaze,
    up: cUp, upEnd: cUpEnd, down: cDown, downEnd: cDownEnd, other: cOther
});

drawMA({
    left: 387.7, right: 680, top: 372, bottom: 638.3,
    xDomain: [-7.47, 15.7], yDomain: [-19.0, 16.49],
    title: "MA plot of A2\u2212VS\u2212B2.PossionDis_Method", titleX: 534, titleY: 357,
    legX: 591.7, legY: 380.7,
    label: "B2/A2", xLabelX: 532, xLabelY: 673, yLabelX: 362, yLabelY: 500,
    diagUp: dDiagUp, diagDown: dDiagDown, core: dCore, coreSolid: dCoreSolid,
    redSolid: dRedSolid, redMid: dRedMid, redHaze: dRedHaze,
    blueSolid: dBlueSolid, blueMid: dBlueMid, blueHaze: dBlueHaze,
    up: dUp, upEnd: dUpEnd, down: dDown, downEnd: dDownEnd, other: dOther
});
</script>
</body>
</html>
